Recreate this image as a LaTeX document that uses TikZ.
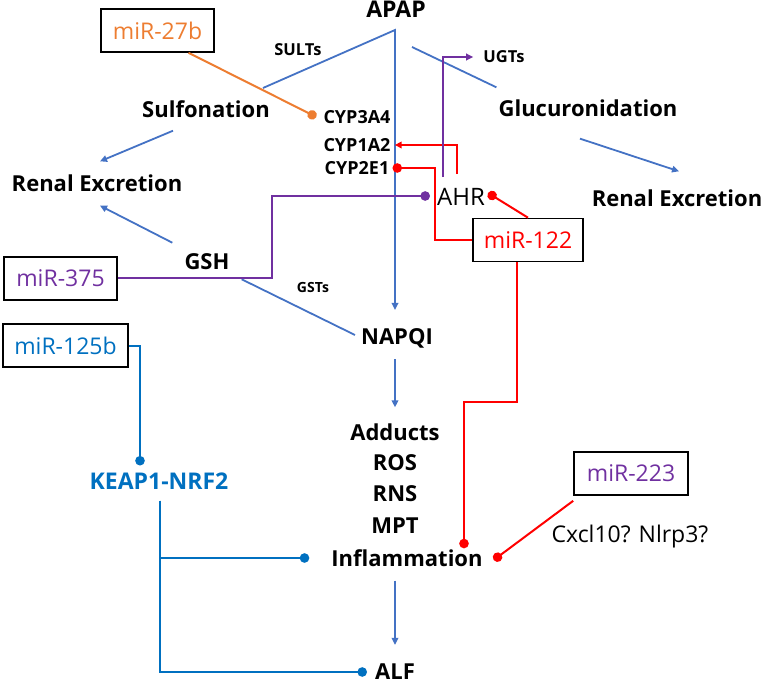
\documentclass[tikz,border=0pt]{standalone}
\usepackage{fontspec}
\setmainfont{Open Sans}
\usetikzlibrary{arrows.meta}
\definecolor{pathblue}{HTML}{4472C4}
\definecolor{nrfblue}{HTML}{0070C0}
\definecolor{mirorange}{HTML}{ED7D31}
\definecolor{mirpurple}{HTML}{7030A0}
\definecolor{mirred}{HTML}{FF0000}
\tikzset{
  lbl/.style={inner sep=0pt, font=\bfseries\fontsize{22}{24}\selectfont},
  plain/.style={inner sep=0pt, font=\fontsize{23}{25}\selectfont},
  enz/.style={inner sep=0pt, font=\bfseries\fontsize{16.5}{18}\selectfont},
  mirbox/.style={draw, line width=1.6pt, inner sep=0pt, minimum height=43,
    font=\fontsize{23}{25}\selectfont},
  act/.style={line width=1.8pt, -{Triangle[length=7pt,width=6.5pt]}},
  inh/.style={line width=2pt, -{Circle[length=9.5pt]}},
}
\begin{document}
\begin{tikzpicture}[x=1pt, y=1pt]
  \useasboundingbox (0,0) rectangle (762,-684);
  % main pathway
  \node[lbl, font=\bfseries\fontsize{23}{25}\selectfont] (apap) at (396,-9) {APAP};
  \node[lbl] (sulf) at (206,-109) {Sulfonation};
  \node[lbl] (gluc) at (588,-108) {Glucuronidation};
  \node[lbl] (renl) at (97,-183) {Renal Excretion};
  \node[lbl] (renr) at (677,-198) {Renal Excretion};
  \node[lbl] (gsh) at (207,-262) {GSH};
  \node[lbl] (napqi) at (397,-338) {NAPQI};
  \node[lbl] (add) at (395,-432) {Adducts};
  \node[lbl] (ros) at (395,-463) {ROS};
  \node[lbl] (rns) at (395,-494) {RNS};
  \node[lbl] (mpt) at (395,-526) {MPT};
  \node[lbl] (infl) at (407,-558) {Inflammation};
  \node[lbl] (alf) at (395,-672) {ALF};
  \node[plain, font=\fontsize{24}{26}\selectfont] (ahr) at (461,-197) {AHR};
  \node[lbl, font=\bfseries\fontsize{23}{25}\selectfont, text=nrfblue] (keap) at (159,-481) {KEAP1-NRF2};
  \node[plain] (cxcl) at (630,-537) {Cxcl10? Nlrp3?};
  % enzymes
  \node[enz, font=\bfseries\fontsize{18}{20}\selectfont] (cyp3) at (357,-117) {CYP3A4};
  \node[enz, font=\bfseries\fontsize{18}{20}\selectfont] (cyp1) at (357,-145) {CYP1A2};
  \node[enz, font=\bfseries\fontsize{18}{20}\selectfont] (cyp2) at (357,-168) {CYP2E1};
  \node[enz] (sults) at (298,-50) {SULTs};
  \node[enz] (ugts) at (504,-57) {UGTs};
  \node[enz, font=\bfseries\fontsize{14}{16}\selectfont] (gsts) at (313,-287) {GSTs};
  % microRNAs
  \node[mirbox, minimum width=113, text=mirorange] (m27b) at (157.5,-30.5) {miR-27b};
  \node[mirbox, minimum width=113, text=mirpurple] (m375) at (60.5,-278.5) {miR-375};
  \node[mirbox, minimum width=125, text=nrfblue] (m125b) at (65.5,-345.5) {miR-125b};
  \node[mirbox, minimum width=110, text=mirred] (m122) at (528,-240) {miR-122};
  \node[mirbox, minimum width=114, text=mirpurple] (m223) at (631,-473.5) {miR-223};
  \coordinate (fork) at (395,-30);

  % arrows of the pathway
  \draw[pathblue, act] ([shift={(-132,-58)}]fork) -- (fork) -- ([yshift=18]napqi.north -| fork);
  \draw[pathblue, line width=1.8pt] ([shift={(17,-17)}]fork) -- ([shift={(-2,12)}]gluc.north west);
  \draw[pathblue, act] ([shift={(-33,-13)}]sulf.south) -- ([shift={(3,13)}]renl.north);
  \draw[pathblue, act] ([shift={(-12,11)}]gsh.north west) -- ([shift={(3,-14)}]renl.south);
  \draw[pathblue, act] ([shift={(-8,-22)}]gluc.south) -- ([shift={(2,18)}]renr.north);
  \draw[pathblue, line width=1.8pt] ([shift={(12,-9)}]gsh.south east) -- ([shift={(-6,3)}]napqi.west);
  \draw[pathblue, act] ([yshift=-11]napqi.south -| fork) -- ([yshift=16]add.north);
  \draw[pathblue, act] ([yshift=-14]infl.south -| alf) -- ([yshift=19]alf.north);

  % regulation
  \draw[mirorange, inh] ([xshift=31]m27b.south) -- ([xshift=-7]cyp3.west);
  \draw[mirred, inh] (m122.west) -- ++(-37,0) |- ([xshift=3]cyp2.east);
  \draw[mirred, act] ([shift={(-4,14)}]ahr.north) |- ([xshift=4]cyp1.east);
  \draw[mirred, inh] (m122.north) -- ([shift={(3,4)}]ahr.east);
  \draw[mirred, inh] ([xshift=-11]m122.south) -- ++(0,-140) -| ([shift={(57,1)}]infl.north);
  \draw[mirred, inh] ([yshift=-5]m223.south west) -- ([shift={(11,-2)}]infl.east);
  \draw[mirpurple, inh] (m375.east) -- ++(154,0) |- ([shift={(-7,1)}]ahr.west);
  \draw[mirpurple, act] ([shift={(-18,11)}]ahr.north) |- ([xshift=-10]ugts.west);
  \draw[nrfblue, inh] (m125b.east) -| ([shift={(-19,7)}]keap.north);
  \draw[nrfblue, inh] ([shift={(1,-11)}]keap.south) |- ([xshift=-8]alf.west);
  \draw[nrfblue, inh] ([shift={(1,-11)}]keap.south) |- ([xshift=-22]infl.west);
\end{tikzpicture}
\end{document}
